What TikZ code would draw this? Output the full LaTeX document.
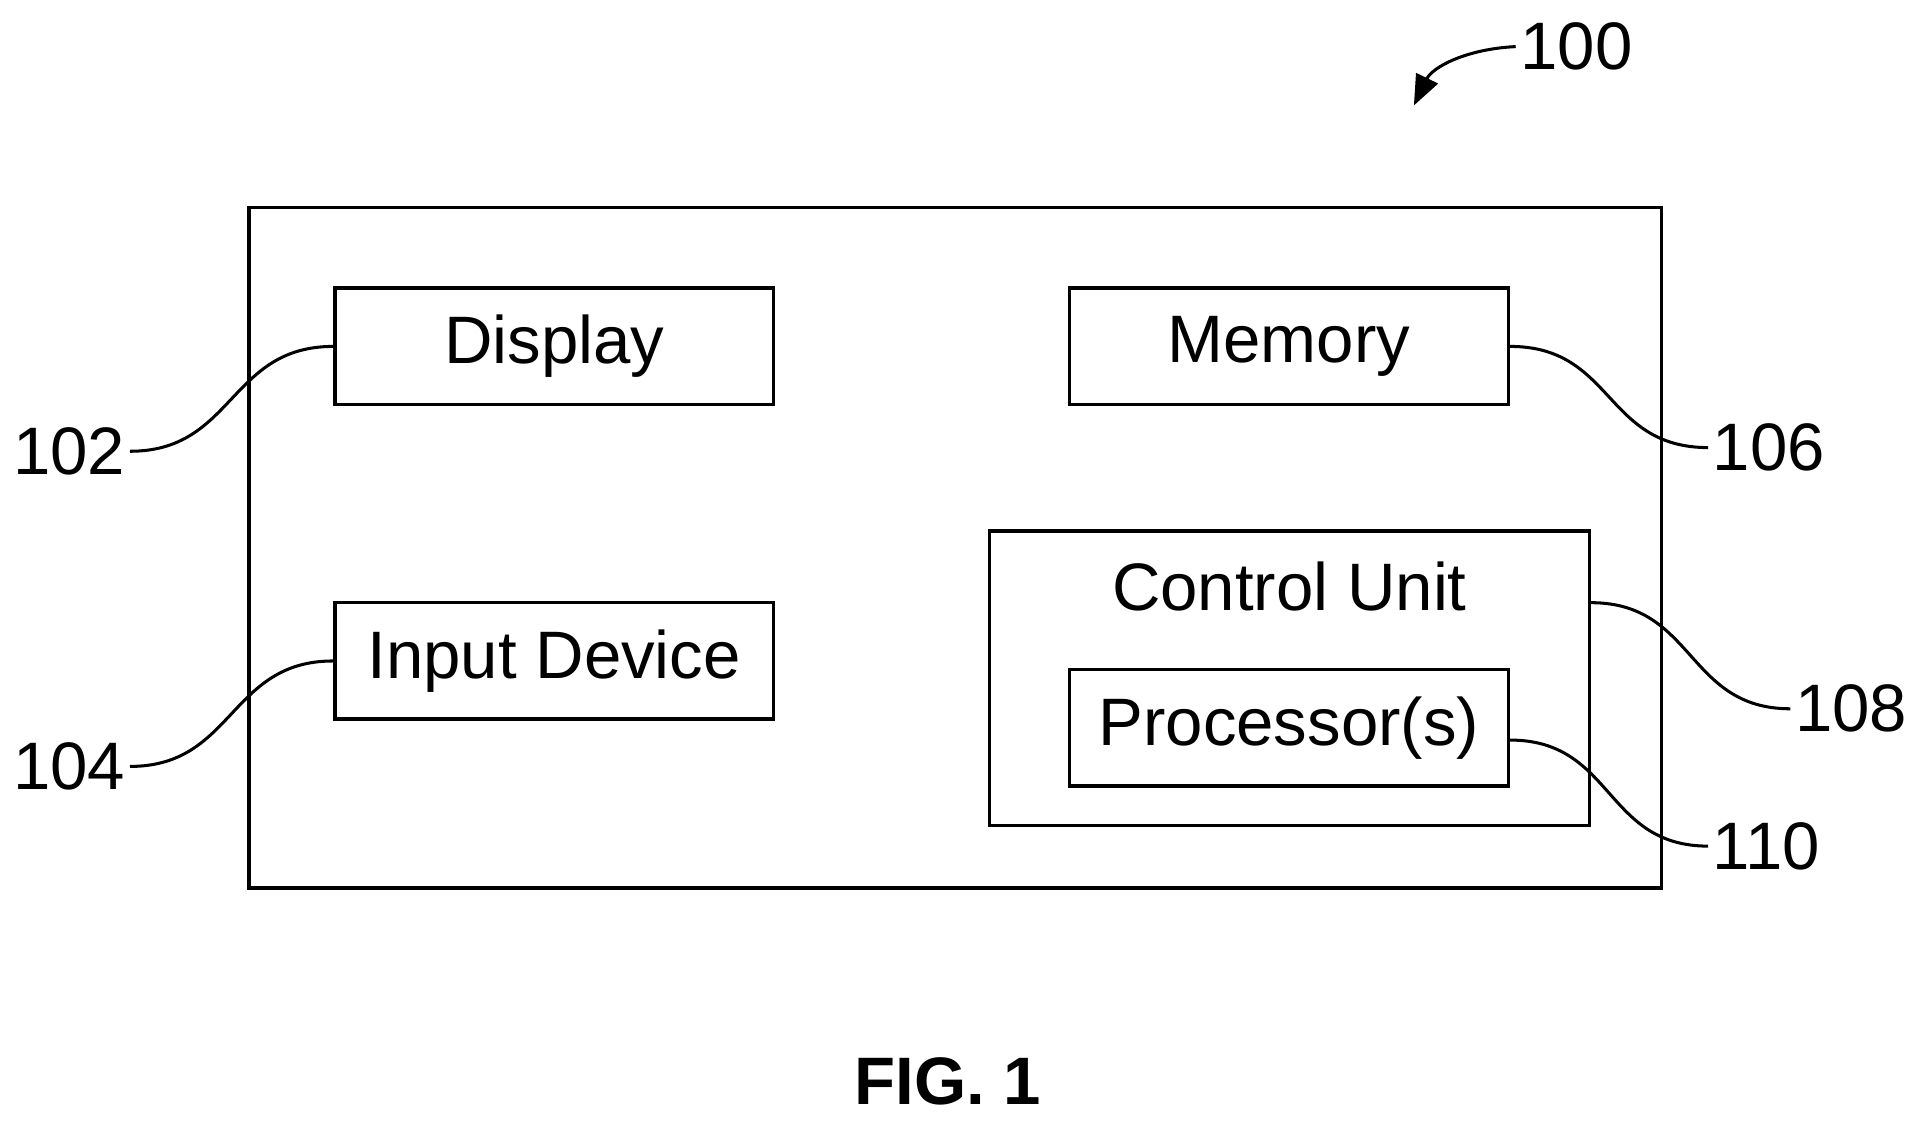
\documentclass[tikz,border=0pt]{standalone}
\usepackage{fontspec}
\setmainfont{Liberation Sans}
\usetikzlibrary{arrows.meta, calc}

\begin{document}
\begin{tikzpicture}[
    x=0.0199cm, y=-0.0199cm,
    box/.style={rectangle, draw, line width=1.6pt, inner sep=0pt, minimum width=7.12cm, minimum height=1.89cm, font=\fontsize{31}{36}\selectfont},
    refnum/.style={font=\fontsize{31}{36}\selectfont, inner sep=2pt},
    lead/.style={line width=1.4pt}
]
\useasboundingbox (0,0) rectangle (1560,914);

% Outer device
\draw[line width=1.6pt] (203,169) rectangle (1355,724);

% Blocks
\node[box] (display) at (452,282.5) {Display};
\node[box] (memory) at (1051,282.5) {Memory};
\node[box] (input) at (452,539) {Input Device};
\node[box, minimum width=9.73cm, minimum height=4.78cm,
      label={[refnum, anchor=north, yshift=-0.45cm]north:Control Unit}] (ctrl) at (1051.5,553) {};
\node[box] (proc) at (1051,593.5) {Processor(s)};

% Reference numerals
\node[refnum, anchor=west] (l100) at (1236,38) {100};
\node[refnum, anchor=east] (l102) at (106,368) {102};
\node[refnum, anchor=east] (l104) at (106,625) {104};
\node[refnum, anchor=west] (l106) at (1393,365) {106};
\node[refnum, anchor=west] (l108) at (1460,578) {108};
\node[refnum, anchor=west] (l110) at (1393,690) {110};
\coordinate (dev) at (1153,86);

% Leaders
\draw[lead] (l102.east) .. controls +(85,0) and +(-85,0) .. (display.west);
\draw[lead] (l104.east) .. controls +(85,0) and +(-85,0) .. (input.west);
\draw[lead] (memory.east) .. controls +(85,0) and +(-85,0) .. (l106.west);
\draw[lead] ($(ctrl.north east)+(0,60)$) .. controls +(85,0) and +(-85,0) .. (l108.west);
\draw[lead] ($(proc.east)+(0,10)$) .. controls +(85,0) and +(-85,0) .. (l110.west);
\draw[lead, -{Triangle[length=14pt, width=11pt]}] (l100.west) .. controls (1195,40) and (1168,55) .. (dev);

% Caption
\node[font=\fontsize{31}{36}\selectfont\bfseries] (fig) at (773,882) {FIG. 1};
\end{tikzpicture}
\end{document}
